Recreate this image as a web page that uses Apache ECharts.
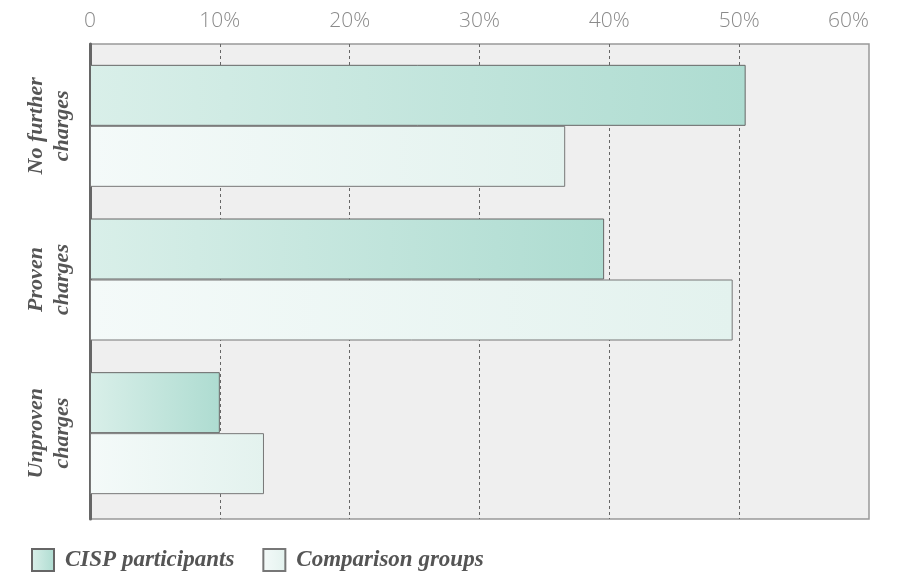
<!DOCTYPE html>
<html>
<head>
<meta charset="utf-8">
<script src="https://cdn.jsdelivr.net/npm/echarts@6/dist/echarts.min.js"></script>
<style>html,body{margin:0;padding:0;background:#fff}#c{width:903px;height:575px}</style>
</head>
<body>
<div id="c"></div>
<script>
const categories = ["No further\ncharges", "Proven\ncharges", "Unproven\ncharges"];
const seriesNames = ["CISP participants", "Comparison groups"];
const cispValues = [50.5, 39.6, 10.0];
const comparisonValues = [36.6, 49.5, 13.4];
const xTicks = [0, 10, 20, 30, 40, 50, 60];

const chart = echarts.init(document.getElementById('c'));
const grad = (a, b) => new echarts.graphic.LinearGradient(0, 0, 1, 0, [{offset: 0, color: a}, {offset: 1, color: b}]);
const serifFont = '"Liberation Serif", "DejaVu Serif", serif';
chart.setOption({
  animation: false,
  grid: [
    {left: 90, right: 34, top: 44, bottom: 56, show: true, backgroundColor: '#efefef', borderColor: '#999', borderWidth: 1.5},
    {left: 90, right: 34, top: 49, bottom: 65}
  ],
  xAxis: [
    {
      gridIndex: 0, type: 'value', position: 'top', min: xTicks[0], max: xTicks[xTicks.length - 1], interval: 10,
      axisLine: {show: false}, axisTick: {show: false},
      axisLabel: {margin: 12, color: '#8a8a8a', fontSize: 21, fontFamily: '"Open Sans", "Liberation Sans", sans-serif', fontWeight: 300,
        alignMaxLabel: 'right',
        formatter: v => v === 0 ? '0' : v + '%'},
      splitLine: {show: true, showMinLine: false, showMaxLine: false, lineStyle: {type: [3, 3], color: '#666', width: 1}}
    },
    {gridIndex: 1, type: 'value', min: 0, max: 60, show: false}
  ],
  yAxis: [
    {gridIndex: 0, type: 'value', min: 0, max: 1,
     axisLine: {show: true, lineStyle: {color: '#666', width: 3}},
     axisTick: {show: false}, axisLabel: {show: false}, splitLine: {show: false}},
    {
      gridIndex: 1, type: 'category', data: categories, inverse: true,
      axisLine: {show: false},
      axisTick: {show: false},
      axisLabel: {rotate: 90, margin: 15, color: '#555', fontSize: 22, fontWeight: 'bold', fontStyle: 'italic', fontFamily: serifFont, lineHeight: 26, align: 'center', verticalAlign: 'bottom'}
    }
  ],
  legend: {
    left: 26, top: 543, itemWidth: 22, itemHeight: 22, itemGap: 28, icon: 'rect',
    textStyle: {color: '#555', fontSize: 23, fontWeight: 'bold', fontStyle: 'italic', fontFamily: serifFont, padding: [0, 0, 0, 6]},
    data: seriesNames
  },
  series: [
    {name: seriesNames[0], type: 'bar', xAxisIndex: 1, yAxisIndex: 1, data: cispValues, barWidth: 61, barGap: '0%',
     itemStyle: {color: grad('#d9efe9', '#aedcd1'), borderColor: '#666', borderWidth: 1}},
    {name: seriesNames[1], type: 'bar', xAxisIndex: 1, yAxisIndex: 1, data: comparisonValues, barWidth: 61, barGap: '0%',
     itemStyle: {color: grad('#f4faf9', '#e3f2ee'), borderColor: '#777', borderWidth: 1}}
  ]
});
</script>
</body>
</html>
